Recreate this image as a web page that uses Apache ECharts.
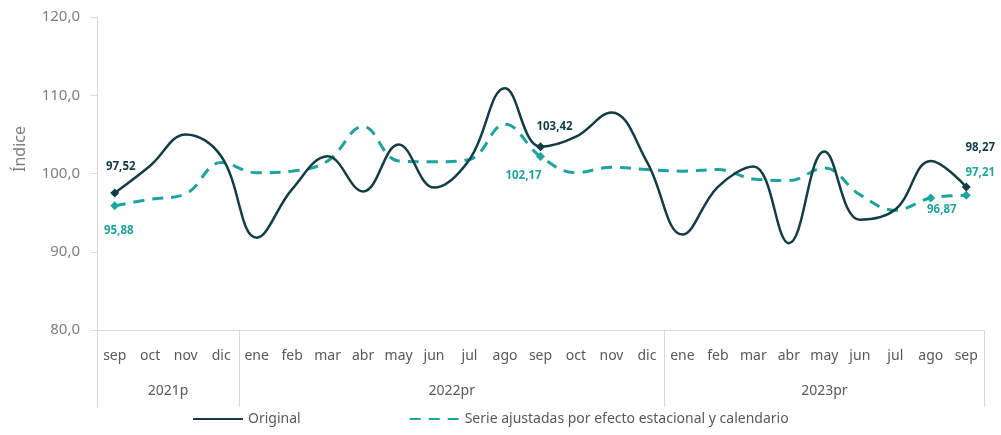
<!DOCTYPE html>
<html>
<head>
<meta charset="utf-8">
<script src="https://cdn.jsdelivr.net/npm/echarts@6/dist/echarts.min.js"></script>
<style>
  html, body { margin: 0; padding: 0; background: #fff; }
  #chart { width: 1001px; height: 435px; }
</style>
</head>
<body>
<div id="chart"></div>
<script>
// meses (sep 2021 - sep 2023)
const months = ['sep','oct','nov','dic',
  'ene','feb','mar','abr','may','jun','jul','ago','sep','oct','nov','dic',
  'ene','feb','mar','abr','may','jun','jul','ago','sep'];
// años: [etiqueta, nº de meses]
const years = [['2021p', 4], ['2022pr', 12], ['2023pr', 9]];

const original = [97.52, 101.0, 105.0, 102.2, 91.8, 98.0, 102.2, 97.7, 103.7, 98.2, 101.8, 110.9,
  103.42, 104.7, 107.8, 101.5, 92.2, 98.3, 100.9, 91.1, 102.8, 94.1, 95.4, 101.6, 98.27];
const adjusted = [95.88, 96.7, 97.4, 101.4, 100.1, 100.3, 101.6, 106.0, 101.6, 101.5, 101.8, 106.3,
  102.17, 100.1, 100.8, 100.5, 100.3, 100.5, 99.3, 99.1, 100.7, 97.3, 95.3, 96.87, 97.21];

const yTicks = [80, 90, 100, 110, 120];

// puntos con etiqueta: indice -> desplazamiento de la etiqueta
const origLabels = { 0: [6, -26], 12: [14, -20], 24: [14, -39] };
const adjLabels = { 0: [4, 25], 12: [-17, 19], 23: [11, 12], 24: [14, -23] };

const DARK = '#123d45';
const TEAL = '#1fa39e';
const GRAY = '#595959';
const AXIS = '#d9d9d9';
const FONT = 'Noto Sans';

function fmt(v, d) { return v.toFixed(d).replace('.', ','); }

function buildData(values, labels, color) {
  return values.map((v, i) => {
    if (!(i in labels)) return v;
    return {
      value: v,
      symbol: 'diamond',
      symbolSize: 9,
      itemStyle: { color: color },
      label: {
        show: true,
        position: 'inside',
        offset: labels[i],
        formatter: p => fmt(p.value, 2),
        color: color,
        fontFamily: FONT,
        fontWeight: 'bold',
        fontSize: 11.5
      }
    };
  });
}

// eje de años: medios meses, etiqueta en el centro de cada año
const halfCats = [];
const yearLabel = {};
const sepTicks = [0];
let acc = 0;
years.forEach(([name, n]) => {
  yearLabel[acc * 2 + n] = name;
  acc += n;
  sepTicks.push(acc * 2);
});
for (let k = 0; k <= months.length * 2; k++) halfCats.push(yearLabel[k] || '');

const chart = echarts.init(document.getElementById('chart'));
chart.setOption({
  animation: false,
  grid: { left: 97, right: 17, top: 17, bottom: 105 },
  legend: {
    left: 187,
    bottom: 4,
    itemWidth: 50,
    itemHeight: 10,
    itemGap: 108,
    itemStyle: { opacity: 0 },
    textStyle: { color: GRAY, fontSize: 14, fontFamily: FONT },
    data: ['Original', 'Serie ajustadas por efecto estacional y calendario']
  },
  xAxis: [{
    type: 'category',
    data: months,
    position: 'bottom',
    axisLine: { lineStyle: { color: AXIS } },
    axisTick: { show: false },
    axisLabel: { interval: 0, margin: 19, color: GRAY, fontSize: 14, fontFamily: FONT }
  }, {
    type: 'category',
    data: halfCats,
    boundaryGap: false,
    position: 'bottom',
    axisLine: { show: false },
    axisTick: {
      show: true,
      length: 77,
      interval: (idx) => sepTicks.indexOf(idx) >= 0,
      lineStyle: { color: AXIS }
    },
    axisLabel: { interval: 0, margin: 54, color: GRAY, fontSize: 14, fontFamily: FONT }
  }],
  yAxis: {
    type: 'value',
    min: yTicks[0],
    max: yTicks[yTicks.length - 1],
    interval: 10,
    axisLine: { show: true, lineStyle: { color: AXIS } },
    axisTick: { show: true, length: 6, lineStyle: { color: AXIS } },
    splitLine: { show: false },
    axisLabel: { margin: 17, color: '#7f7f7f', fontSize: 15, fontFamily: FONT, formatter: v => fmt(v, 1) }
  },
  graphic: [{
    type: 'text',
    left: 12,
    top: 126,
    rotation: Math.PI / 2,
    style: { text: 'Índice', fill: '#7f7f7f', fontSize: 16, fontFamily: FONT }
  }],
  series: [{
    name: 'Original',
    type: 'line',
    smooth: 0.4,
    symbol: 'none',
    color: DARK,
    lineStyle: { color: DARK, width: 2.5 },
    data: buildData(original, origLabels, DARK),
    z: 3
  }, {
    name: 'Serie ajustadas por efecto estacional y calendario',
    type: 'line',
    smooth: 0.4,
    symbol: 'none',
    color: TEAL,
    lineStyle: { color: TEAL, width: 3, type: [11, 8] },
    data: buildData(adjusted, adjLabels, TEAL),
    z: 2
  }]
});
</script>
</body>
</html>
